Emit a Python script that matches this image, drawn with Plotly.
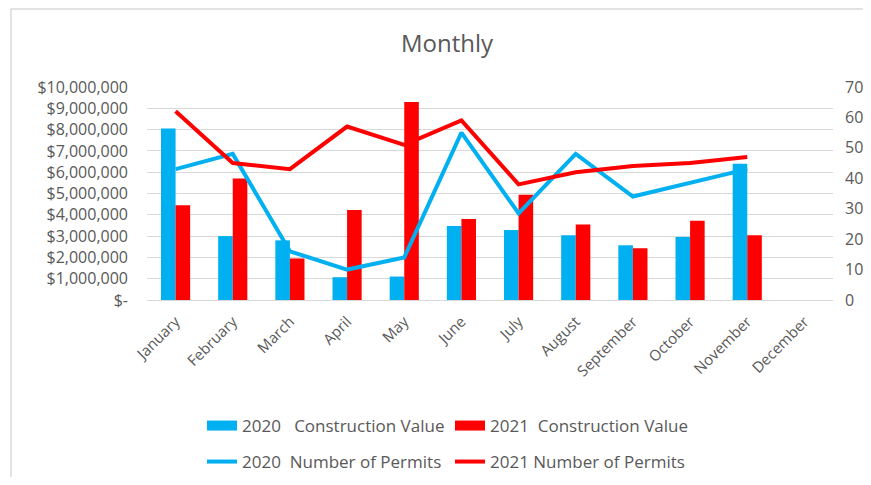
import plotly.graph_objects as go

months = ["January", "February", "March", "April", "May", "June", "July",
          "August", "September", "October", "November", "December"]
value_2020 = [8050000, 3000000, 2800000, 1070000, 1100000, 3470000, 3290000,
              3040000, 2570000, 2960000, 6400000, None]
value_2021 = [4450000, 5700000, 1950000, 4220000, 9300000, 3800000, 4940000,
              3540000, 2430000, 3720000, 3040000, None]
permits_2020 = [43, 48, 16, 10, 14, 55, 28.5, 48, 34, 38.5, 43, None]
permits_2021 = [62, 45, 43, 57, 51, 59, 38, 42, 44, 45, 47, None]

left_tickvals = [0, 1e6, 2e6, 3e6, 4e6, 5e6, 6e6, 7e6, 8e6, 9e6, 1e7]
left_ticktext = ["$-", "$1,000,000", "$2,000,000", "$3,000,000", "$4,000,000",
                 "$5,000,000", "$6,000,000", "$7,000,000", "$8,000,000",
                 "$9,000,000", "$10,000,000"]

BLUE = "#00B0F0"
RED = "#FF0000"
GRAY = "#595959"
FONT = "Open Sans"
NB = "\u00a0"

name_v20 = "2020" + NB * 3 + "Construction Value"
name_v21 = "2021" + NB * 2 + "Construction Value"
name_p20 = "2020" + NB * 2 + "Number of Permits"
name_p21 = "2021 Number of Permits"

fig = go.Figure()
fig.add_trace(go.Bar(x=months, y=value_2020, name=name_v20, showlegend=False,
                     marker=dict(color=BLUE, line=dict(width=0))))
fig.add_trace(go.Bar(x=months, y=value_2021, name=name_v21, showlegend=False,
                     marker=dict(color=RED, line=dict(width=0))))
# legend swatches for the bars (wide rectangles, as in the reference)
fig.add_trace(go.Scatter(x=[months[0]], y=[None], name=name_v20, mode="lines",
                         line=dict(color=BLUE, width=12), legend="legend"))
fig.add_trace(go.Scatter(x=[months[0]], y=[None], name=name_v21, mode="lines",
                         line=dict(color=RED, width=12), legend="legend"))
fig.add_trace(go.Scatter(x=months, y=permits_2020, name=name_p20,
                         mode="lines", line=dict(color=BLUE, width=4), yaxis="y2",
                         legend="legend2"))
fig.add_trace(go.Scatter(x=months, y=permits_2021, name=name_p21,
                         mode="lines", line=dict(color=RED, width=4), yaxis="y2",
                         legend="legend2"))

OFF = 8  # page offset of the figure
W, H = 871 - 2 * OFF, 485 - 2 * OFF
L, T = 147 - OFF, 87 - OFF
R = W - (833 - OFF)
B = H - (300 - OFF)
pw, ph = W - L - R, H - T - B

def px(x):
    return (x - OFF - L) / pw

def py(y):
    return (H - B - (y - OFF)) / ph

fig.update_layout(
    width=W, height=H,
    margin=dict(l=L, r=R, t=T, b=B, autoexpand=False),
    paper_bgcolor="white", plot_bgcolor="white",
    font=dict(family=FONT, color=GRAY, size=16),
    title=dict(text="Monthly", x=(447 - OFF) / W, xanchor="center",
               y=1 - (44 - OFF) / H, yanchor="middle",
               font=dict(family=FONT, size=24, color=GRAY)),
    barmode="group", bargap=0.49, bargroupgap=0,
    xaxis=dict(tickangle=-45, showgrid=False, showline=True, linecolor="#d9d9d9",
               linewidth=1, ticks="", ticklabelstandoff=6,
               tickfont=dict(size=15, color=GRAY)),
    yaxis=dict(range=[0, 1e7], tickvals=left_tickvals, ticktext=left_ticktext,
               showgrid=True, gridcolor="#d9d9d9", gridwidth=1, zeroline=False,
               ticks="", ticklen=0, ticklabelstandoff=18,
               tickfont=dict(size=16, color=GRAY)),
    yaxis2=dict(range=[0, 70], dtick=10, overlaying="y", side="right",
                showgrid=False, zeroline=False, ticklabelstandoff=11,
                tickfont=dict(size=16, color=GRAY)),
    legend=dict(orientation="h", x=px(202), xanchor="left", y=py(426), yanchor="middle",
                entrywidth=203, entrywidthmode="pixels",
                font=dict(size=17, color=GRAY), bgcolor="rgba(0,0,0,0)", traceorder="normal"),
    legend2=dict(orientation="h", x=px(202), xanchor="left", y=py(462), yanchor="middle",
                 entrywidth=203, entrywidthmode="pixels",
                 font=dict(size=17, color=GRAY), bgcolor="rgba(0,0,0,0)", traceorder="normal"),
    showlegend=True,
    shapes=[
        dict(type="line", xref="paper", yref="paper", x0=px(11), x1=px(871),
             y0=py(9), y1=py(9), line=dict(color="#d9d9d9", width=1.5)),
        dict(type="line", xref="paper", yref="paper", x0=px(11), x1=px(11),
             y0=py(9), y1=py(485), line=dict(color="#d9d9d9", width=1.5)),
    ],
)

fig.write_html("out.html")
